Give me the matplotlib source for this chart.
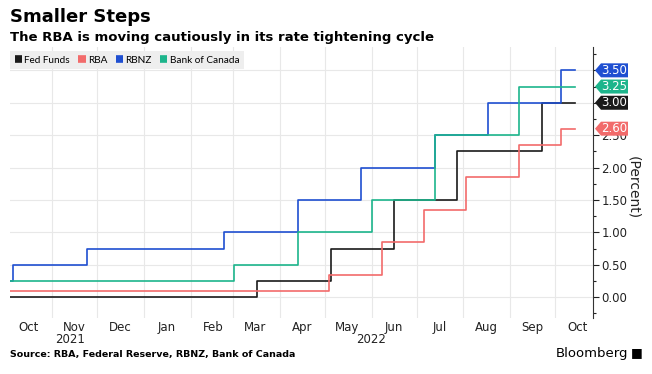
import datetime as dt
import matplotlib
matplotlib.use('Agg')
import matplotlib.pyplot as plt
import matplotlib.dates as mdates
from matplotlib.patches import Polygon
from matplotlib.ticker import MultipleLocator
from matplotlib.transforms import blended_transform_factory

# policy rate changes (date, new rate) - step series
start_date = dt.date(2021, 10, 4)
end_date = dt.date(2022, 10, 14)

fed_dates = [start_date, dt.date(2022, 3, 17), dt.date(2022, 5, 5), dt.date(2022, 6, 16),
             dt.date(2022, 7, 28), dt.date(2022, 9, 22), end_date]
fed_rates = [0.00, 0.25, 0.75, 1.50, 2.25, 3.00, 3.00]

rba_dates = [start_date, dt.date(2022, 5, 4), dt.date(2022, 6, 8), dt.date(2022, 7, 6),
             dt.date(2022, 8, 3), dt.date(2022, 9, 7), dt.date(2022, 10, 5), end_date]
rba_rates = [0.10, 0.35, 0.85, 1.35, 1.85, 2.35, 2.60, 2.60]

rbnz_dates = [start_date, dt.date(2021, 10, 6), dt.date(2021, 11, 24), dt.date(2022, 2, 23),
              dt.date(2022, 4, 13), dt.date(2022, 5, 25), dt.date(2022, 7, 13),
              dt.date(2022, 8, 17), dt.date(2022, 10, 5), end_date]
rbnz_rates = [0.25, 0.50, 0.75, 1.00, 1.50, 2.00, 2.50, 3.00, 3.50, 3.50]

boc_dates = [start_date, dt.date(2022, 3, 2), dt.date(2022, 4, 13), dt.date(2022, 6, 1),
             dt.date(2022, 7, 13), dt.date(2022, 9, 7), end_date]
boc_rates = [0.25, 0.50, 1.00, 1.50, 2.50, 3.25, 3.25]

series_names = ['Fed Funds', 'RBA', 'RBNZ', 'Bank of Canada']
series_colors = ['#1a1a1a', '#f26b6b', '#1f4fd1', '#1db58c']
last_labels = ['3.00', '2.60', '3.50', '3.25']

W, H = 652, 374
fig = plt.figure(figsize=(W / 100, H / 100), dpi=100)
ax_l, ax_r, ax_t, ax_b = 10, 593, 47, 318
ax = fig.add_axes([ax_l / W, (H - ax_b) / H, (ax_r - ax_l) / W, (ax_b - ax_t) / H])

all_dates = [fed_dates, rba_dates, rbnz_dates, boc_dates]
all_rates = [fed_rates, rba_rates, rbnz_rates, boc_rates]
for d, r, name, c in zip(all_dates, all_rates, series_names, series_colors):
    ax.plot(d, r, drawstyle='steps-post', color=c, lw=1.2, label=name)

ymin, ymax = -0.32, 3.86
ax.set_xlim(dt.date(2021, 10, 4), dt.date(2022, 10, 26))
ax.set_ylim(ymin, ymax)

# x axis: gridlines at month starts, labels mid-month
ax.xaxis.set_major_locator(mdates.MonthLocator())
ax.xaxis.set_major_formatter(plt.NullFormatter())
ax.xaxis.set_minor_locator(mdates.MonthLocator(bymonthday=16))
ax.xaxis.set_minor_formatter(mdates.DateFormatter('%b'))
ax.tick_params(axis='x', which='both', length=0, labelsize=8.5, colors='#222222', pad=2)

# y axis on the right
ax.yaxis.tick_right()
ax.yaxis.set_major_locator(MultipleLocator(0.5))
ax.yaxis.set_minor_locator(MultipleLocator(0.25))
ax.yaxis.set_major_formatter(plt.FormatStrFormatter('%.2f'))
ax.tick_params(axis='y', which='major', length=4, width=0.8, labelsize=8.5, colors='#222222', pad=2)
ax.tick_params(axis='y', which='minor', length=2, width=0.8, color='#222222')

for s in ['top', 'left', 'bottom']:
    ax.spines[s].set_visible(False)
ax.spines['right'].set_color('#333333')
ax.spines['right'].set_linewidth(0.8)

ax.grid(True, which='major', color='#e8e8e8', lw=0.8)
ax.set_axisbelow(True)

# y label on the right, reading top to bottom
ax.text(1.0 + 40 / (ax_r - ax_l), 0.48, '(Percent)', transform=ax.transAxes, rotation=-90,
        ha='center', va='center', fontsize=10, color='#222222')

# year labels
trans = blended_transform_factory(ax.transData, ax.transAxes)
ax.text(mdates.date2num(dt.date(2021, 11, 13)), -0.078, '2021', transform=trans,
        ha='center', va='center', fontsize=8.5, color='#222222')
ax.text(mdates.date2num(dt.date(2022, 6, 1)), -0.078, '2022', transform=trans,
        ha='center', va='center', fontsize=8.5, color='#222222')

# value tags on the right axis (small flag pointing at the axis)
px_x = 1.0 / (ax_r - ax_l)
px_y = (ymax - ymin) / (ax_b - ax_t)
tag_trans = blended_transform_factory(ax.transAxes, ax.transData)
for r, lab, c in zip(all_rates, last_labels, series_colors):
    y = r[-1]
    hh = 7 * px_y
    verts = [(1 + 2 * px_x, y), (1 + 8 * px_x, y + hh), (1 + 35 * px_x, y + hh),
             (1 + 35 * px_x, y - hh), (1 + 8 * px_x, y - hh)]
    ax.add_patch(Polygon(verts, closed=True, fc=c, ec='none', transform=tag_trans,
                         clip_on=False, zorder=10))
    ax.text(1 + 21.5 * px_x, y, lab, transform=tag_trans, ha='center', va='center',
            fontsize=8.5, color='white', zorder=11, clip_on=False)

leg = ax.legend(loc='upper left', bbox_to_anchor=(0.0, 0.985), ncol=4, frameon=True,
                prop={'family': ['Lato', 'DejaVu Sans'], 'size': 7.2},
                handlelength=0.75, handleheight=0.7, handletextpad=0.25,
                columnspacing=0.8, borderpad=0.45, borderaxespad=0.0)
leg.get_frame().set_facecolor('#eeeeee')
leg.get_frame().set_edgecolor('none')
leg.get_frame().set_alpha(1)
leg.get_frame().set_boxstyle('square', pad=0)
for h in leg.legend_handles:
    h.set_linewidth(5.5)
    h.set_solid_capstyle('butt')

fig.text(10 / W, 1 - 17 / H, 'Smaller Steps', fontsize=13, fontweight='bold', va='center')
fig.text(10 / W, 1 - 37 / H, 'The RBA is moving cautiously in its rate tightening cycle',
         fontsize=9.5, fontweight='bold', va='center')
fig.text(10 / W, 1 - 354 / H, 'Source: RBA, Federal Reserve, RBNZ, Bank of Canada',
         fontsize=6.8, fontweight='bold', va='center')
fig.text(628 / W, 1 - 353 / H, 'Bloomberg', fontsize=9.5, ha='right', va='center')
fig.text(643 / W, 1 - 353 / H, '\u25a0', fontsize=9, ha='right', va='center')

fig.savefig('out.png', dpi=100)
